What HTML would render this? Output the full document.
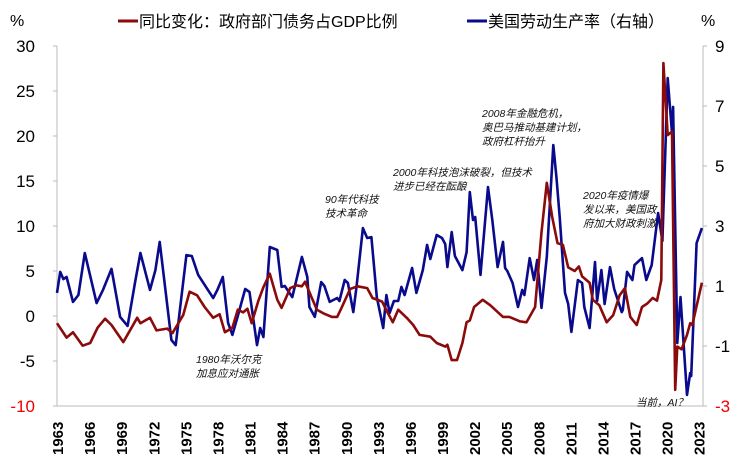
<!DOCTYPE html>
<html><head><meta charset="utf-8"><style>
body{margin:0;background:#fff}
svg{display:block;font-family:"Liberation Sans","Noto Sans CJK SC",sans-serif}
.ann{font-size:10.5px;font-style:italic;fill:#111}
</style></head><body>
<svg id="c" width="746" height="461"></svg>
<script>
const redYears=[1963,1963.9,1964.5,1965.4,1966.1,1966.8,1967.5,1968.1,1969.2,1970.5,1970.8,1971.7,1972.3,1973.3,1973.8,1974.8,1975.4,1976.1,1976.8,1977.6,1978.2,1978.7,1979.4,1979.9,1980.4,1980.8,1981.2,1981.8,1982.3,1982.9,1983.6,1984.0,1984.8,1985.4,1985.9,1986.2,1986.8,1987.3,1987.9,1988.7,1989.2,1989.6,1990.4,1991.1,1992.0,1992.5,1993.4,1993.9,1994.4,1994.9,1995.7,1996.3,1996.9,1997.9,1998.5,1999.3,1999.5,1999.9,2000.4,2000.9,2001.3,2001.6,2002.0,2002.8,2003.5,2004.7,2005.3,2006.3,2006.9,2007.7,2008.3,2008.8,2009.3,2009.8,2010.3,2010.8,2011.4,2011.8,2012.1,2012.8,2013.1,2013.7,2014.4,2015.0,2015.6,2016.1,2016.6,2017.2,2017.7,2018.2,2018.7,2019.1,2019.5,2019.7,2020.1,2020.5,2020.8,2021.0,2021.4,2021.9,2022.2,2022.4,2023.3];
const redValues=[-0.8,-2.4,-1.8,-3.3,-3.0,-1.3,-0.3,-1.0,-2.9,-0.2,-0.8,-0.2,-1.6,-1.4,-1.9,0.1,2.7,2.3,1.0,-0.2,0.2,-1.8,-1.3,0.7,0.4,0.8,-0.8,1.6,3.2,4.7,1.8,0.9,3.1,3.4,3.3,3.8,2.1,0.7,0.3,-0.1,-0.1,0.9,3.0,3.3,3.1,2.0,1.6,0.4,-0.7,0.7,-0.2,-1.0,-2.1,-2.3,-3.0,-3.4,-3.2,-4.9,-4.9,-3.0,-0.7,-0.5,1.0,1.8,1.2,-0.1,-0.1,-0.6,-0.7,1.0,9.3,14.8,11.0,8.1,7.9,5.4,5.0,5.5,4.4,3.7,1.8,1.2,-0.7,0.1,2.3,3.1,-0.1,-1.0,1.0,1.4,2.0,1.7,4.0,28.1,20.1,20.5,-8.2,-3.4,-3.7,-2.1,-0.8,-1.0,3.7];
const blueYears=[1963,1963.3,1963.6,1963.9,1964.5,1965.0,1965.6,1966.7,1967.3,1968.1,1968.9,1969.6,1970.3,1970.8,1971.7,1972.2,1972.6,1973.7,1974.1,1975.1,1975.6,1976.2,1977.0,1977.6,1978.0,1978.5,1979.0,1979.4,1979.9,1980.6,1981.0,1981.7,1982.0,1982.3,1982.9,1983.6,1984.0,1984.3,1985.0,1985.9,1986.4,1986.6,1987.1,1987.7,1988.0,1988.5,1989.2,1989.4,1989.9,1990.2,1990.7,1991.0,1991.6,1992.0,1992.4,1992.9,1993.5,1993.8,1994.1,1994.5,1994.9,1995.2,1995.5,1996.2,1996.6,1997.2,1997.6,1997.9,1998.5,1999.0,1999.3,1999.5,1999.9,2000.2,2000.9,2001.3,2001.6,2001.9,2002.1,2002.6,2003.3,2003.7,2004.2,2004.7,2004.9,2005.1,2005.6,2006.1,2006.5,2006.7,2007.2,2007.6,2007.9,2008.3,2008.8,2009.4,2009.7,2010.0,2010.5,2010.8,2011.1,2011.7,2012.1,2012.3,2012.8,2013.3,2013.5,2013.9,2014.2,2014.7,2015.1,2015.8,2015.9,2016.3,2016.8,2017.0,2017.7,2018.1,2018.6,2019.2,2019.6,2020.1,2020.5,2020.6,2021.0,2021.3,2021.9,2022.2,2022.3,2022.8,2023.3];
const blueValues=[0.77,1.47,1.23,1.3,0.47,0.7,2.1,0.43,0.87,1.57,-0.03,-0.33,1.13,2.1,0.87,1.53,2.47,-0.8,-0.97,2.03,2.0,1.37,0.93,0.6,0.87,1.3,-0.23,-0.63,0.0,0.9,0.8,-0.97,-0.4,-0.7,2.3,2.2,0.97,1.0,0.63,1.97,1.3,0.3,-0.03,1.13,1.0,0.47,0.6,0.5,1.2,1.1,0.13,0.97,2.93,2.6,2.63,0.63,-0.4,0.7,0.1,0.5,0.5,0.97,0.7,1.6,0.77,1.53,2.37,1.9,2.7,2.6,2.4,1.63,2.8,2.0,1.53,2.13,4.13,3.2,3.3,1.37,4.3,3.2,1.63,2.47,1.6,1.5,1.1,0.3,0.87,0.7,1.93,1.2,1.87,0.27,1.97,5.7,4.6,3.3,0.77,0.4,-0.53,1.2,1.1,0.3,-0.4,1.8,0.5,1.53,0.4,1.63,0.9,0.13,0.2,1.47,1.2,1.7,1.93,1.2,1.7,3.43,2.5,7.93,6.1,6.97,-0.9,0.63,-2.63,-1.9,-2.0,2.43,2.93];
const leftTicks=[30,25,20,15,10,5,0,-5,-10];
const rightTicks=[9,7,5,3,1,-1,-3];
const yearTicks=[1963,1966,1969,1972,1975,1978,1981,1984,1987,1990,1993,1996,1999,2002,2005,2008,2011,2014,2017,2020,2023];

const X0=57,X1=703,YT=46,YB=406;
const x=t=>X0+(t-1963)*(X1-X0)/60.4;
const yL=v=>YT+(30-v)*(YB-YT)/40;
const yR=v=>YT+(9-v)*(YB-YT)/12;
const svg=document.getElementById('c');
const NS='http://www.w3.org/2000/svg';
function mk(tag,attrs,text){const e=document.createElementNS(NS,tag);for(const k in attrs)e.setAttribute(k,attrs[k]);if(text!==undefined)e.textContent=text;svg.appendChild(e);return e;}

let e=mk('line',{x1:X0,y1:YT,x2:X0,y2:YB,stroke:'#bbb'});


e=mk('line',{x1:X1,y1:YT,x2:X1,y2:YB,stroke:'#bbb'});


e=mk('line',{x1:X0,y1:YB,x2:X1,y2:YB,stroke:'#bbb'});



leftTicks.forEach(v=>{
  mk('line',{x1:X0-4,y1:yL(v),x2:X0,y2:yL(v),stroke:'#bbb'});
  const t=mk('text',{x:35,y:yL(v)+6,'text-anchor':'end','font-size':17,fill:v===-10?'#e00':'#000'},String(v));
  
  
});
rightTicks.forEach(v=>{
  mk('line',{x1:X1,y1:yR(v),x2:X1+4,y2:yR(v),stroke:'#bbb'});
  const t=mk('text',{x:715,y:yR(v)+6,'font-size':17,fill:v===-3?'#e00':'#000'},String(v));
  
  
});
yearTicks.forEach(v=>{
  const xx=x(v);
  const t=mk('text',{x:0,y:0,'font-size':15,'font-weight':'bold',transform:`translate(${xx+6},455) rotate(-90)`},String(v));
  
  
});

function path(xs,ys,fy,col,name){
  const d=xs.map((t,i)=>(i?'L':'M')+x(t).toFixed(1)+','+fy(ys[i]).toFixed(1)).join('');
  const p=mk('path',{d,fill:'none',stroke:col,'stroke-width':2.6,'stroke-linejoin':'round'});
  
  
}
path(blueYears,blueValues,yR,'#0a0a8c','productivity-line');
path(redYears,redValues,yL,'#8b0a0a','debt-change-line');

e=mk('text',{x:10,y:26,'font-size':16},'%');


e=mk('text',{x:701,y:26,'font-size':16},'%');


e=mk('line',{x1:118,y1:21,x2:138,y2:21,stroke:'#8b0a0a','stroke-width':3});


e=mk('text',{x:139,y:27,'font-size':16},'同比变化：政府部门债务占GDP比例');


e=mk('line',{x1:467,y1:21,x2:487,y2:21,stroke:'#0a0a8c','stroke-width':3});


e=mk('text',{x:488,y:27,'font-size':16},'美国劳动生产率（右轴）');



const anns=[[325,203,['90年代科技','技术革命']],[393,176,['2000年科技泡沫破裂，但技术','进步已经在酝酿']],[482,117,['2008年金融危机，','奥巴马推动基建计划，','政府杠杆抬升']],[583,199,['2020年疫情爆','发以来，美国政','府加大财政刺激']],[196,363,['1980年沃尔克','加息应对通胀']],[636,406,['当前，AI？']]];
anns.forEach(a=>{
  a[2].forEach((s,i)=>{
    const t=mk('text',{x:a[0],y:a[1]+i*14,class:'ann'},s);
    
    
  });
});
</script>
</body></html>
